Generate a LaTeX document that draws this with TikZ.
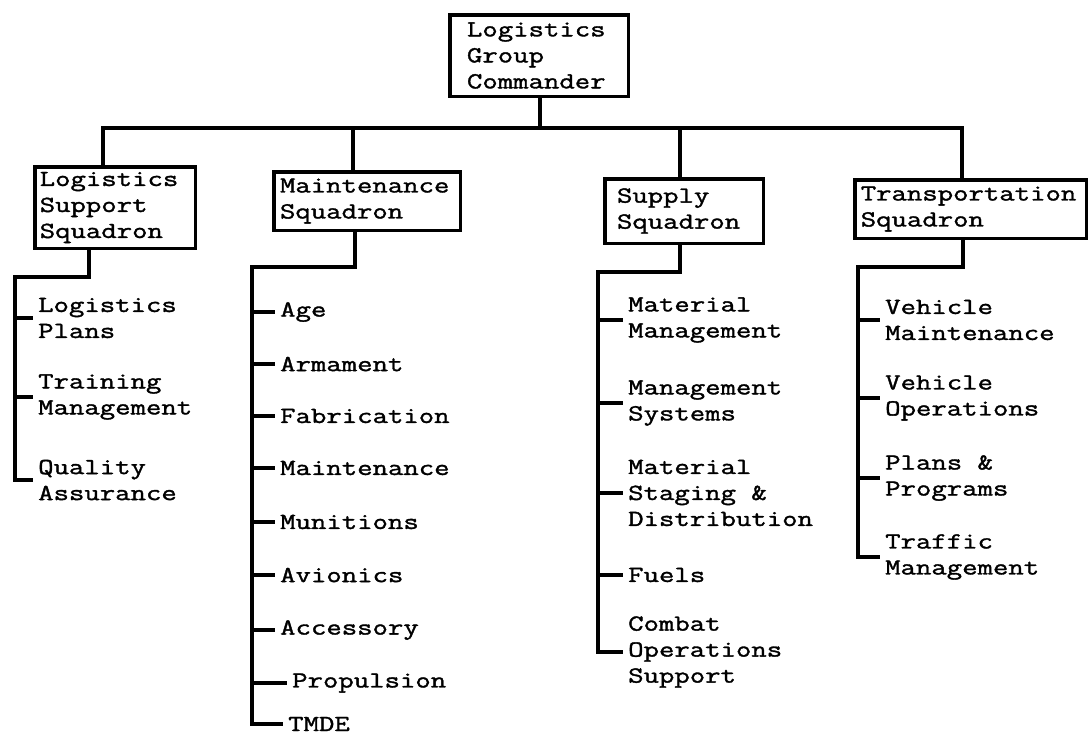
\documentclass[tikz,border=0pt]{standalone}
\usepackage{fontspec}
\newfontfamily\typer[FakeStretch=1.3,FakeBold=1.5]{Latin Modern Mono}
\begin{document}
\begin{tikzpicture}[x=1pt,y=-1pt,
  wire/.style={line width=3.5pt},
  unit/.style={draw, line width=3.5pt, anchor=north west, align=left,
    inner ysep=0pt, font=\typer\fontsize{23}{26}\selectfont},
  item/.style={anchor=west, align=left, inner xsep=5pt, inner ysep=0pt,
    font=\typer\fontsize{23}{26}\selectfont}]
\useasboundingbox (0,0) rectangle (1092,737);

% command and squadron boxes
\node[unit, inner xsep=17.25pt, text width=144pt, minimum height=81.5pt] (gc) at (448,13) {Logistics\\Group\\Commander};
\node[unit, inner xsep=5pt, text width=150.5pt, minimum height=81.5pt] (lss) at (33,165) {Logistics\\Support\\Squadron};
\node[unit, inner xsep=6.25pt, text width=174pt, minimum height=58.5pt] (ms) at (272,170) {Maintenance\\Squadron};
\node[unit, inner xsep=12.25pt, text width=134pt, minimum height=64.5pt] (ss) at (603,177) {Supply\\Squadron};
\node[unit, inner xsep=6pt, text width=219.5pt, minimum height=58.5pt] (tsq) at (853,178) {Transportation\\Squadron};

% bus from the commander to the squadrons
\coordinate (bus) at (0,128);
\coordinate (u0) at (540,0);
\coordinate (u1) at (103,0);
\coordinate (u2) at (353,0);
\coordinate (u3) at (680,0);
\coordinate (u4) at (962,0);
\draw[wire] (gc.south -| u0) -- (bus -| u0);
\draw[wire] (lss.north -| u1) |- (bus -| u4) -- (tsq.north -| u4);
\draw[wire] (ms.north -| u2) -- (bus -| u2);
\draw[wire] (ss.north -| u3) -- (bus -| u3);

% Logistics Support Squadron branches
\node[item] (lp) at (33,318) {Logistics\\Plans};
\node[item] (tm) at (33,397) {Training\\Management};
\node[item] (qa) at (33,480) {Quality\\Assurance};
\coordinate (d1) at (89,0);
\coordinate (s1) at (15,277);
\draw[wire] (lss.south -| d1) |- (s1) |- (qa.west);
\draw[wire] (s1 |- lp.west) -- (lp.west);
\draw[wire] (s1 |- tm.west) -- (tm.west);

% Maintenance Squadron branches
\node[item] (age) at (275,312) {Age};
\node[item] (arm) at (275,364) {Armament};
\node[item] (fab) at (275,416) {Fabrication};
\node[item] (mnt) at (275,468) {Maintenance};
\node[item] (mun) at (275,522) {Munitions};
\node[item] (avi) at (275,575) {Avionics};
\node[item] (acc) at (275,630) {Accessory};
\node[item] (pro) at (287,683) {Propulsion};
\node[item] (tmd) at (283,724) {TMDE};
\coordinate (d2) at (355,0);
\coordinate (s2) at (252,267);
\draw[wire] (ms.south -| d2) |- (s2) |- (tmd.west);
\foreach \n in {age,arm,fab,mnt,mun,avi,acc,pro}
  \draw[wire] (s2 |- \n.west) -- (\n.west);

% Supply Squadron branches
\node[item] (mm) at (623,320) {Material\\Management};
\node[item] (msy) at (623,403) {Management\\Systems};
\node[item] (msd) at (623,493) {Material\\Staging \&\\Distribution};
\node[item] (fue) at (623,575) {Fuels};
\node[item] (cos) at (623,652) {Combat\\Operations\\Support};
\coordinate (d3) at (680,0);
\coordinate (s3) at (598,272);
\draw[wire] (ss.south -| d3) |- (s3) |- (cos.west);
\foreach \n in {mm,msy,msd,fue}
  \draw[wire] (s3 |- \n.west) -- (\n.west);

% Transportation Squadron branches
\node[item] (vm) at (880,320) {Vehicle\\Maintenance};
\node[item] (vo) at (880,398) {Vehicle\\Operations};
\node[item] (pp) at (880,478) {Plans \&\\Programs};
\node[item] (trf) at (880,557) {Traffic\\Management};
\coordinate (d4) at (963,0);
\coordinate (s4) at (858,267);
\draw[wire] (tsq.south -| d4) |- (s4) |- (trf.west);
\foreach \n in {vm,vo,pp}
  \draw[wire] (s4 |- \n.west) -- (\n.west);
\end{tikzpicture}
\end{document}
